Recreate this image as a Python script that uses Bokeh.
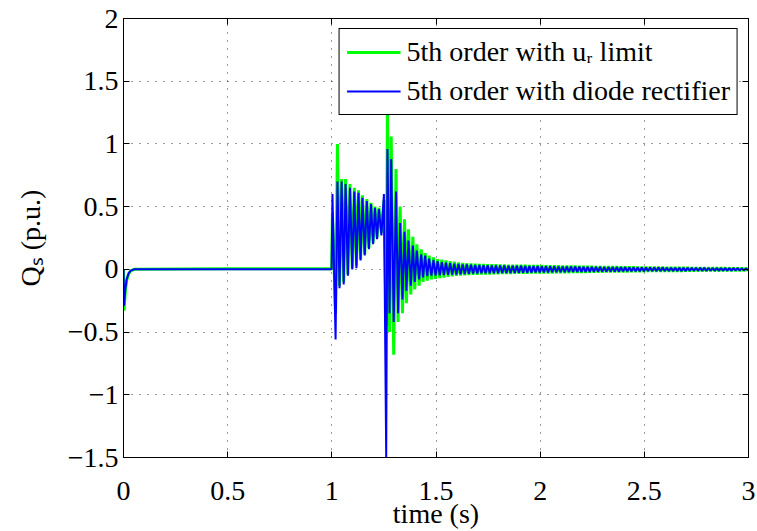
from bokeh.plotting import figure
from bokeh.models import Range1d, LinearAxis, Legend, LegendItem, FixedTicker
from bokeh.embed import file_html
from bokeh.resources import INLINE

# ---------------- data ----------------
x_ticks = [0, 0.5, 1, 1.5, 2, 2.5, 3]
x_tick_labels = ["0", "0.5", "1", "1.5", "2", "2.5", "3"]
y_ticks = [-1.5, -1, -0.5, 0, 0.5, 1, 1.5, 2]
y_tick_labels = ["\u22121.5", "\u22121", "\u22120.5", "0", "0.5", "1", "1.5", "2"]
series_names = ["5th order with u\u1d63 limit", "5th order with diode rectifier"]
x_title = "time (s)"
y_title = "Q\u209b (p.u.)"

# transient part: peaks / troughs (shared sample times)
t_transient = [
    0.0, 0.003, 0.008, 0.015, 0.025, 0.035, 0.05, 0.5, 0.999,
    1.003, 1.018, 1.027, 1.037, 1.047, 1.057, 1.066, 1.077, 1.087, 1.098,
    1.108, 1.118, 1.128, 1.138, 1.147, 1.158, 1.168, 1.178, 1.188, 1.198,
    1.207, 1.217, 1.226, 1.238, 1.250, 1.261, 1.267, 1.277, 1.285, 1.297,
    1.308, 1.318, 1.328, 1.339, 1.349, 1.358, 1.368, 1.379, 1.389, 1.398,
    1.408, 1.419, 1.429, 1.438, 1.448, 1.458, 1.467, 1.478, 1.488,
]
green_transient = [
    0.0, -0.33, -0.19, -0.09, -0.035, -0.012, 0.0, 0.004, 0.004,
    0.45, -0.35, 1.00, -0.13, 0.72, -0.10, 0.72, -0.04, 0.68, 0.01,
    0.65, 0.03, 0.63, 0.08, 0.59, 0.12, 0.56, 0.17, 0.53, 0.21,
    0.50, 0.25, 0.49, 0.29, 0.55, -0.45, 1.32, -0.50, 1.06, -0.68,
    0.80, -0.42, 0.50, -0.35, 0.40, -0.27, 0.32, -0.20, 0.26, -0.16,
    0.20, -0.13, 0.16, -0.10, 0.13, -0.09, 0.11, -0.08, 0.095,
]
blue_transient = [
    0.0, -0.29, -0.17, -0.08, -0.03, -0.01, 0.0, 0.001, 0.001,
    0.60, -0.56, 0.70, -0.15, 0.70, -0.12, 0.68, -0.05, 0.65, 0.0,
    0.62, 0.01, 0.61, 0.07, 0.57, 0.11, 0.545, 0.16, 0.52, 0.20,
    0.49, 0.24, 0.48, 0.27, 0.60, -1.50, 0.96, -0.35, 0.88, -0.42,
    0.62, -0.35, 0.37, -0.24, 0.30, -0.17, 0.23, -0.13, 0.19, -0.10,
    0.15, -0.08, 0.12, -0.065, 0.11, -0.055, 0.085, -0.05, 0.075,
]

# slowly decaying 50 Hz ripple after the transients (shared sample times)
t_tail = [
    1.498, 1.508, 1.518, 1.528, 1.538, 1.548, 1.558, 1.568, 1.578, 1.588,
    1.598, 1.608, 1.618, 1.628, 1.638, 1.648, 1.658, 1.668, 1.678, 1.688,
    1.698, 1.708, 1.718, 1.728, 1.738, 1.748, 1.758, 1.768, 1.778, 1.788,
    1.798, 1.808, 1.818, 1.828, 1.838, 1.848, 1.858, 1.868, 1.878, 1.888,
    1.898, 1.908, 1.918, 1.928, 1.938, 1.948, 1.958, 1.968, 1.978, 1.988,
    1.998, 2.008, 2.018, 2.028, 2.038, 2.048, 2.058, 2.068, 2.078, 2.088,
    2.098, 2.108, 2.118, 2.128, 2.138, 2.148, 2.158, 2.168, 2.178, 2.188,
    2.198, 2.208, 2.218, 2.228, 2.238, 2.248, 2.258, 2.268, 2.278, 2.288,
    2.298, 2.308, 2.318, 2.328, 2.338, 2.348, 2.358, 2.368, 2.378, 2.388,
    2.398, 2.408, 2.418, 2.428, 2.438, 2.448, 2.458, 2.468, 2.478, 2.488,
    2.498, 2.508, 2.518, 2.528, 2.538, 2.548, 2.558, 2.568, 2.578, 2.588,
    2.598, 2.608, 2.618, 2.628, 2.638, 2.648, 2.658, 2.668, 2.678, 2.688,
    2.698, 2.708, 2.718, 2.728, 2.738, 2.748, 2.758, 2.768, 2.778, 2.788,
    2.798, 2.808, 2.818, 2.828, 2.838, 2.848, 2.858, 2.868, 2.878, 2.888,
    2.898, 2.908, 2.918, 2.928, 2.938, 2.948, 2.958, 2.968, 2.978, 2.988,
    2.998,
]
green_tail = [
    -0.075, 0.082, -0.070, 0.078, -0.065, 0.072, -0.060, 0.066, -0.056, 0.060,
    -0.052, 0.055, -0.049, 0.051, -0.046, 0.048, -0.044, 0.046, -0.043, 0.044,
    -0.042, 0.043, -0.041, 0.042, -0.040, 0.041, -0.040, 0.040, -0.039, 0.040,
    -0.038, 0.039, -0.037, 0.038, -0.037, 0.037, -0.036, 0.037, -0.035, 0.036,
    -0.035, 0.035, -0.034, 0.035, -0.034, 0.034, -0.033, 0.034, -0.033, 0.033,
    -0.032, 0.033, -0.032, 0.032, -0.031, 0.032, -0.031, 0.031, -0.030, 0.031,
    -0.030, 0.030, -0.029, 0.030, -0.029, 0.029, -0.028, 0.029, -0.028, 0.028,
    -0.027, 0.028, -0.027, 0.027, -0.026, 0.027, -0.026, 0.026, -0.025, 0.026,
    -0.025, 0.025, -0.024, 0.025, -0.024, 0.024, -0.023, 0.024, -0.023, 0.023,
    -0.022, 0.023, -0.022, 0.022, -0.021, 0.022, -0.021, 0.021, -0.020, 0.021,
    -0.020, 0.020, -0.019, 0.020, -0.019, 0.019, -0.019, 0.019, -0.018, 0.019,
    -0.018, 0.018, -0.018, 0.018, -0.017, 0.018, -0.017, 0.017, -0.017, 0.017,
    -0.016, 0.017, -0.016, 0.016, -0.016, 0.016, -0.015, 0.016, -0.015, 0.015,
    -0.015, 0.015, -0.014, 0.015, -0.014, 0.014, -0.014, 0.014, -0.013, 0.014,
    -0.013, 0.013, -0.013, 0.013, -0.012, 0.013, -0.012, 0.012, -0.012, 0.012,
    -0.012,
]
blue_tail = [
    -0.050, 0.065, -0.048, 0.058, -0.046, 0.053, -0.044, 0.049, -0.042, 0.046,
    -0.041, 0.043, -0.039, 0.040, -0.037, 0.038, -0.035, 0.036, -0.034, 0.035,
    -0.033, 0.034, -0.032, 0.033, -0.031, 0.032, -0.031, 0.031, -0.030, 0.031,
    -0.030, 0.030, -0.029, 0.030, -0.029, 0.029, -0.028, 0.029, -0.028, 0.028,
    -0.027, 0.028, -0.027, 0.027, -0.026, 0.027, -0.026, 0.026, -0.025, 0.026,
    -0.025, 0.025, -0.024, 0.025, -0.024, 0.024, -0.023, 0.024, -0.023, 0.023,
    -0.022, 0.023, -0.022, 0.022, -0.021, 0.022, -0.021, 0.021, -0.020, 0.021,
    -0.020, 0.020, -0.019, 0.020, -0.019, 0.019, -0.019, 0.019, -0.018, 0.019,
    -0.018, 0.018, -0.018, 0.018, -0.017, 0.018, -0.017, 0.017, -0.017, 0.017,
    -0.016, 0.017, -0.016, 0.016, -0.016, 0.016, -0.015, 0.016, -0.015, 0.015,
    -0.015, 0.015, -0.014, 0.015, -0.014, 0.014, -0.014, 0.014, -0.013, 0.014,
    -0.013, 0.013, -0.013, 0.013, -0.012, 0.013, -0.012, 0.012, -0.012, 0.012,
    -0.012, 0.012, -0.011, 0.012, -0.011, 0.011, -0.011, 0.011, -0.010, 0.011,
    -0.010, 0.010, -0.010, 0.010, -0.010, 0.010, -0.009, 0.010, -0.009, 0.009,
    -0.009, 0.009, -0.009, 0.009, -0.008, 0.009, -0.008, 0.008, -0.008, 0.008,
    -0.008,
]

t_all = t_transient + t_tail
green_q = green_transient + green_tail
blue_q = blue_transient + blue_tail
assert len(t_all) == len(green_q) == len(blue_q)

# ---------------- figure ----------------
FONT = "Liberation Serif"
W, H = 757, 531

p = figure(width=W, height=H, output_backend="svg", toolbar_location=None,
           x_range=Range1d(0, 3), y_range=Range1d(-1.5, 2),
           min_border_left=123, min_border_right=9,
           min_border_top=18, min_border_bottom=73)
p.background_fill_color = "white"
p.border_fill_color = "white"
p.outline_line_color = "black"
p.outline_line_width = 1
p.outline_line_alpha = 1.0

top_ax = LinearAxis()
right_ax = LinearAxis()
p.add_layout(top_ax, "above")
p.add_layout(right_ax, "right")

x_over = {t: l for t, l in zip(x_ticks, x_tick_labels)}
y_over = {t: l for t, l in zip(y_ticks, y_tick_labels)}

for ax in p.xaxis:
    ax.ticker = FixedTicker(ticks=x_ticks)
    ax.major_label_overrides = x_over
for ax in p.yaxis:
    ax.ticker = FixedTicker(ticks=y_ticks)
    ax.major_label_overrides = y_over

for ax in p.axis:
    ax.major_tick_in = 6
    ax.major_tick_out = 0
    ax.minor_tick_in = 0
    ax.minor_tick_out = 0
    ax.axis_line_color = "black"
    ax.major_tick_line_color = "black"
    ax.major_label_text_font = FONT
    ax.major_label_text_font_size = "28px"
    ax.major_label_text_color = "black"
    ax.major_label_text_font_style = "normal"
    ax.axis_label_text_font = FONT
    ax.axis_label_text_font_size = "28px"
    ax.axis_label_text_font_style = "normal"
    ax.axis_label_text_color = "black"

bottom_ax = p.below[0]
left_ax = p.left[0]
bottom_ax.major_label_standoff = 24
bottom_ax.axis_label = x_title
bottom_ax.axis_label_standoff = -5
left_ax.major_label_standoff = 5
left_ax.axis_label = y_title
left_ax.axis_label_standoff = 19
# mirrored tick marks only (no labels) on the top and right edges
for ax in (top_ax, right_ax):
    ax.major_label_text_font_size = "1px"
    ax.major_label_text_color = None
    ax.major_label_standoff = 0

p.xgrid.ticker = FixedTicker(ticks=x_ticks)
p.ygrid.ticker = FixedTicker(ticks=y_ticks)
p.grid.grid_line_color = "black"
p.grid.grid_line_dash = "1 7"
p.grid.grid_line_alpha = 0.8
p.grid.grid_line_width = 1

r_g = p.line(t_all, green_q, line_color="#00ff00", line_width=3)
r_b = p.line(t_all, blue_q, line_color="#0000ff", line_width=2)

legend = Legend(items=[LegendItem(label=series_names[0], renderers=[r_g]),
                       LegendItem(label=series_names[1], renderers=[r_b])],
                location="top_right")
legend.label_text_font = FONT
legend.label_text_font_size = "28px"
legend.label_text_color = "black"
legend.glyph_width = 54
legend.glyph_height = 20
legend.label_standoff = 6
legend.label_height = 32
legend.padding = 7
legend.spacing = 7
legend.margin = 10
legend.border_line_color = "black"
legend.border_line_width = 1
legend.border_line_alpha = 1.0
legend.background_fill_color = "white"
legend.background_fill_alpha = 1.0
p.add_layout(legend)

open("out.html", "w").write(file_html(p, INLINE))
